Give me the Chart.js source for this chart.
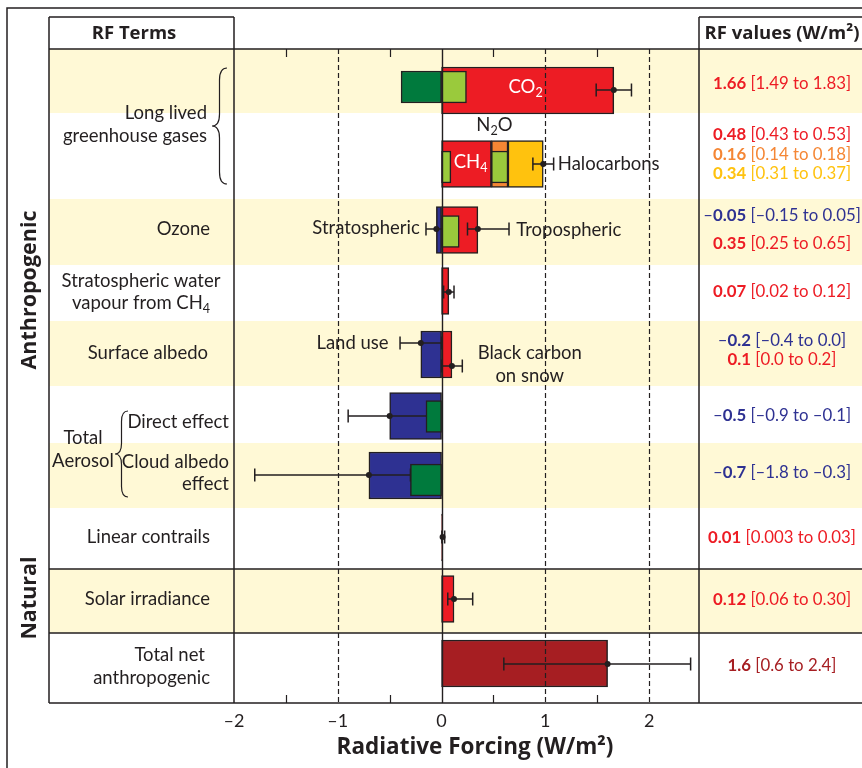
<!DOCTYPE html>
<html>
<head>
<meta charset="utf-8">
<title>Radiative forcing components</title>
<script src="https://cdn.jsdelivr.net/npm/chart.js@4/dist/chart.umd.min.js"></script>
<style>
  html, body { margin: 0; padding: 0; background: #ffffff; }
  #wrap { width: 862px; height: 768px; position: relative; }
</style>
</head>
<body>
<div id="wrap"><canvas id="rf" width="862" height="768"></canvas></div>
<script>
// ---- x axis ----
const xMin = -2, xMax = 2.5;
const xTickValues = [-2, -1, 0, 1, 2];
const xMinorTicks = [-1.5, -0.5, 0.5, 1.5];
const xDashed = [-1, 1, 2];

// ---- RF terms: best estimates and ranges (W/m²) ----
const termNames = ['CO₂', 'CH₄', 'N₂O', 'Halocarbons', 'Stratospheric ozone', 'Tropospheric ozone',
  'Stratospheric water vapour', 'Land use', 'Black carbon on snow', 'Direct effect',
  'Cloud albedo effect', 'Linear contrails', 'Solar irradiance', 'Total net anthropogenic'];
const termRow         = [0, 1, 1, 1, 2, 2, 3, 4, 4, 5, 6, 7, 8, 9];
const stackOnPrevious = [false, false, true, true, false, false, false, false, false, false, false, false, false, false];
const rfBest = [1.66, 0.48, 0.16, 0.34, -0.05, 0.35, 0.07, -0.2, 0.1, -0.5, -0.7, 0.01, 0.12, 1.6];
const rfLow  = [1.49, 0.43, 0.14, 0.31, -0.15, 0.25, 0.02, -0.4, 0.0, -0.9, -1.8, 0.003, 0.06, 0.6];
const rfHigh = [1.83, 0.53, 0.18, 0.37, 0.05, 0.65, 0.12, 0.0, 0.2, -0.1, -0.3, 0.03, 0.30, 2.4];
const bestDigits = [2, 2, 2, 2, 2, 2, 2, 1, 1, 1, 1, 2, 2, 1];
const lowDigits  = [2, 2, 2, 2, 2, 2, 2, 1, 1, 1, 1, 3, 2, 1];
const highDigits = [2, 2, 2, 2, 2, 2, 2, 1, 1, 1, 1, 2, 2, 1];

// terms whose uncertainty is shown as one whisker (CH4 + N2O + halocarbons combined)
const whiskerGroups = [[0], [1, 2, 3], [4], [5], [6], [7], [8], [9], [10], [11], [12], [13]];

// ---- inner boxes (W/m²) ----
const innerLow  = [-0.39, 0, 0, 0.48, 0, -0.15, -0.3];
const innerHigh = [0, 0.24, 0.09, 0.64, 0.17, 0, 0];
const innerRow  = [0, 0, 1, 1, 2, 5, 6];

// ---- colours ----
const ink = '#231F20';
const band = '#FFF9D6';
const RED = '#ED1C24', ORANGE = '#F58634', YELLOW = '#FFC20E', BLUE = '#2E3192', DARKRED = '#A61E22';
const LIGHTGREEN = '#9ACA3C', DARKGREEN = '#007A3D';
const termColours = [RED, RED, ORANGE, YELLOW, BLUE, RED, RED, BLUE, RED, BLUE, BLUE, RED, RED, DARKRED];
const innerColours = [DARKGREEN, LIGHTGREEN, LIGHTGREEN, LIGHTGREEN, LIGHTGREEN, DARKGREEN, DARKGREEN];

// ---- table layout (row heights and offsets in px within the table) ----
const rowHeights = [64, 86, 66, 56, 65, 57, 65, 61, 64, 70];
const shadedRows = [0, 2, 4, 6, 8];
const ruledRows = [8, 9];
const barOffset    = [41.5, 51, 51, 51, 31, 31, 26, 33.5, 33.5, 30, 32.5, 29.5, 30, 30.5];
const whiskerOffset = [41, 51, 30, 30, 27, 22, 45, 30, 32, 29, 30, 31];
const innerOffset  = [38, 38, 54, 54, 32.5, 30.5, 37];
const valueTextOffset = [35, 86, 106, 125, 167, 195, 243, 292, 311, 367, 424, 489, 551, 617];

const rowTop = [];
let rowTotal = 0;
rowHeights.forEach(h => { rowTop.push(rowTotal); rowTotal += h; });
const yPos = (row, off) => rowTop[row] + off;

const FONT = 'Lato, "Open Sans", sans-serif';
const BOLDFONT = '"Open Sans", Lato, sans-serif';
const fmtNum = (v, d) => (v < 0 ? '\u2013' : '') + Math.abs(v).toFixed(d);

// floating bar extents (LLGHG terms stack end to end)
const barStart = [], barEnd = [];
termNames.forEach((_, i) => {
  const s = stackOnPrevious[i] ? barEnd[i - 1] : 0;
  barStart.push(s);
  barEnd.push(s + rfBest[i]);
});

// whiskers
const whiskers = whiskerGroups.map((g, k) => {
  const sum = arr => g.reduce((a, i) => a + arr[i], 0);
  const last = g[g.length - 1];
  return {
    low: sum(rfLow),
    high: sum(rfHigh),
    best: g.length > 1 ? barEnd[last] : rfBest[last],
    y: yPos(termRow[last], whiskerOffset[k])
  };
});
const whiskerLine = [];
whiskers.forEach(w => {
  whiskerLine.push({x: w.low, y: w.y}, {x: w.high, y: w.y}, {x: null, y: null});
});

// ---- text helpers ----
function fontFor(p, size) {
  const s = p.sub ? size * 0.68 : size;
  return p.bold ? '700 ' + s + 'px ' + (p.family || FONT) : '400 ' + s + 'px ' + FONT;
}
function richText(ctx, parts, x, y, align, size, colour) {
  ctx.textBaseline = 'middle';
  ctx.textAlign = 'left';
  const widths = parts.map(p => { ctx.font = fontFor(p, size); return ctx.measureText(p.t).width; });
  const total = widths.reduce((a, b) => a + b, 0);
  let cx = align === 'center' ? x - total / 2 : align === 'right' ? x - total : x;
  parts.forEach((p, k) => {
    ctx.font = fontFor(p, size);
    ctx.fillStyle = p.color || colour || ink;
    ctx.fillText(p.t, cx, y + (p.sub ? size * 0.3 : 0));
    cx += widths[k];
  });
}
function brace(ctx, x, yTop, yBot, depth) {
  const ym = (yTop + yBot) / 2, mid = x + depth / 2, r = depth / 2;
  ctx.beginPath();
  ctx.moveTo(x + depth, yTop);
  ctx.quadraticCurveTo(mid, yTop, mid, yTop + r * 1.6);
  ctx.lineTo(mid, ym - r * 1.6);
  ctx.quadraticCurveTo(mid, ym, x, ym);
  ctx.quadraticCurveTo(mid, ym, mid, ym + r * 1.6);
  ctx.lineTo(mid, yBot - r * 1.6);
  ctx.quadraticCurveTo(mid, yBot, x + depth, yBot);
  ctx.stroke();
}

// labels in the RF terms column (x in px, off = offset in table)
const termLabels = [
  {parts: [{t: 'Long lived'}], x: 207, off: 64, align: 'right'},
  {parts: [{t: 'greenhouse gases'}], x: 207, off: 87, align: 'right'},
  {parts: [{t: 'Ozone'}], x: 210, off: 180, align: 'right'},
  {parts: [{t: 'Stratospheric water'}], x: 141, off: 232, align: 'center'},
  {parts: [{t: 'vapour from CH'}, {t: '4', sub: true}], x: 141, off: 254, align: 'center'},
  {parts: [{t: 'Surface albedo'}], x: 208, off: 304, align: 'right'},
  {parts: [{t: 'Total'}], x: 83, off: 389, align: 'center'},
  {parts: [{t: 'Aerosol'}], x: 83, off: 412, align: 'center'},
  {parts: [{t: 'Direct effect'}], x: 229, off: 373, align: 'right'},
  {parts: [{t: 'Cloud albedo'}], x: 229, off: 413, align: 'right'},
  {parts: [{t: 'effect'}], x: 229, off: 435, align: 'right'},
  {parts: [{t: 'Linear contrails'}], x: 210, off: 488, align: 'right'},
  {parts: [{t: 'Solar irradiance'}], x: 210, off: 550, align: 'right'},
  {parts: [{t: 'Total net'}], x: 205, off: 606, align: 'right'},
  {parts: [{t: 'anthropogenic'}], x: 210, off: 629, align: 'right'}
];
// labels inside the plot (xv = position on the forcing axis)
const plotNotes = [
  {parts: [{t: 'CO'}, {t: '2', sub: true}], xv: 0.81, off: 38, align: 'center', color: '#ffffff'},
  {parts: [{t: 'N'}, {t: '2', sub: true}, {t: 'O'}], xv: 0.51, off: 76, align: 'center'},
  {parts: [{t: 'CH'}, {t: '4', sub: true}], xv: 0.28, off: 113, align: 'center', color: '#ffffff'},
  {parts: [{t: 'Halocarbons'}], xv: 1.12, off: 115, align: 'left'},
  {parts: [{t: 'Stratospheric'}], xv: -0.21, off: 179, align: 'right'},
  {parts: [{t: 'Tropospheric'}], xv: 0.72, off: 181, align: 'left'},
  {parts: [{t: 'Land use'}], xv: -0.51, off: 294, align: 'right'},
  {parts: [{t: 'Black carbon'}], xv: 0.85, off: 304, align: 'center'},
  {parts: [{t: 'on snow'}], xv: 0.85, off: 327, align: 'center'}
];

const tableLeft = 49, tableRight = 862, headerTop = 17, valuesLeft = 699;
const LABEL_SIZE = 18.5, VALUE_SIZE = 16.8;

const tablePlugin = {
  id: 'rfTable',
  beforeDatasetsDraw(chart) {
    const {ctx, scales: {y}} = chart;
    ctx.save();
    ctx.fillStyle = band;
    shadedRows.forEach(r => {
      const t = y.getPixelForValue(rowTop[r]);
      const b = y.getPixelForValue(rowTop[r] + rowHeights[r]);
      ctx.fillRect(tableLeft, t, tableRight - tableLeft, b - t);
    });
    ctx.restore();
  },
  afterDatasetsDraw(chart) {
    const {ctx, chartArea: a, scales: {x, y}} = chart;
    const Y = off => y.getPixelForValue(off);
    ctx.save();

    // plot annotations
    plotNotes.forEach(n => richText(ctx, n.parts, x.getPixelForValue(n.xv), Y(n.off), n.align, LABEL_SIZE, n.color));

    // grid: dashed reference lines, zero line, minor ticks
    ctx.strokeStyle = ink;
    ctx.lineWidth = 1.2;
    ctx.setLineDash([5, 3]);
    xDashed.forEach(v => {
      const px = Math.round(x.getPixelForValue(v)) + 0.5;
      ctx.beginPath(); ctx.moveTo(px, a.top); ctx.lineTo(px, a.bottom); ctx.stroke();
    });
    ctx.setLineDash([]);
    ctx.lineWidth = 1.4;
    const zx = Math.round(x.getPixelForValue(0)) + 0.5;
    ctx.beginPath(); ctx.moveTo(zx, a.top); ctx.lineTo(zx, a.bottom); ctx.stroke();
    ctx.lineWidth = 1.2;
    xMinorTicks.forEach(v => {
      const px = Math.round(x.getPixelForValue(v)) + 0.5;
      ctx.beginPath();
      ctx.moveTo(px, a.top); ctx.lineTo(px, a.top + 8);
      ctx.moveTo(px, a.bottom); ctx.lineTo(px, a.bottom - 8);
      ctx.stroke();
    });

    // table rules
    ctx.lineWidth = 1.5;
    ctx.beginPath();
    ctx.moveTo(tableLeft, headerTop); ctx.lineTo(a.left, headerTop);
    ctx.moveTo(valuesLeft, headerTop); ctx.lineTo(tableRight, headerTop);
    [tableLeft, a.left, valuesLeft].forEach(px => { ctx.moveTo(px, headerTop); ctx.lineTo(px, a.bottom); });
    ctx.moveTo(tableLeft, a.top); ctx.lineTo(tableRight, a.top);
    ctx.moveTo(tableLeft, a.bottom); ctx.lineTo(tableRight, a.bottom);
    ruledRows.forEach(r => {
      const py = Y(rowTop[r]);
      ctx.moveTo(tableLeft, py); ctx.lineTo(tableRight, py);
    });
    // outer frame
    ctx.moveTo(7, 768); ctx.lineTo(7, 8); ctx.lineTo(862, 8);
    ctx.stroke();

    // braces
    ctx.lineWidth = 1.2;
    brace(ctx, 212, Y(19), Y(135), 15);
    brace(ctx, 115, Y(362), Y(448), 13);

    // headers
    richText(ctx, [{t: 'RF Terms', bold: true, family: BOLDFONT}], 134, 34, 'center', 18.5);
    richText(ctx, [{t: 'RF values (W/m²)', bold: true, family: BOLDFONT}], 782, 34, 'center', 18.5);

    // term labels
    termLabels.forEach(l => richText(ctx, l.parts, l.x, Y(l.off), l.align, LABEL_SIZE));

    // values column
    termNames.forEach((_, i) => {
      const c = termColours[i];
      const parts = [];
      if (rfBest[i] < 0) parts.push({t: '\u2013', color: c});
      parts.push({t: Math.abs(rfBest[i]).toFixed(bestDigits[i]), bold: true, color: c});
      parts.push({t: ' [' + fmtNum(rfLow[i], lowDigits[i]) + ' to ' + fmtNum(rfHigh[i], highDigits[i]) + ']', color: c});
      richText(ctx, parts, 782, Y(valueTextOffset[i]), 'center', VALUE_SIZE);
    });

    // side group labels
    ctx.font = '700 21.5px ' + BOLDFONT;
    ctx.fillStyle = ink;
    ctx.textAlign = 'center';
    ctx.textBaseline = 'alphabetic';
    [['Anthropogenic', 241], ['Natural', 549]].forEach(([t, off]) => {
      ctx.save();
      ctx.translate(36, Y(off));
      ctx.rotate(-Math.PI / 2);
      ctx.fillText(t, 0, 0);
      ctx.restore();
    });

    // axis title
    richText(ctx, [{t: 'Radiative Forcing (W/m²)', bold: true, family: BOLDFONT}], 475, 748, 'center', 22.5);
    ctx.restore();
  }
};

new Chart(document.getElementById('rf'), {
  type: 'bar',
  data: {
    datasets: [
      {
        label: 'Inner boxes', type: 'bar', indexAxis: 'y', grouped: false, barThickness: 32,
        data: innerLow.map((lo, k) => ({x: [lo, innerHigh[k]], y: yPos(innerRow[k], innerOffset[k])})),
        backgroundColor: innerColours, borderColor: ink, borderWidth: 1.5, borderSkipped: false, order: 1
      },
      {
        label: 'Best estimate', type: 'line', showLine: false,
        data: whiskers.map(w => ({x: w.best, y: w.y})),
        pointRadius: 3, pointBackgroundColor: ink, pointBorderColor: ink, pointBorderWidth: 0, order: 2
      },
      {
        label: 'Range', type: 'line', data: whiskerLine, spanGaps: false, fill: false,
        borderColor: ink, borderWidth: 1.3, pointStyle: 'line', pointRotation: 90,
        pointRadius: 6.5, pointBorderColor: ink, pointBorderWidth: 1.5, order: 3
      },
      {
        label: 'Radiative forcing', type: 'bar', indexAxis: 'y', grouped: false, barThickness: 47,
        data: termNames.map((_, i) => ({x: [barStart[i], barEnd[i]], y: yPos(termRow[i], barOffset[i])})),
        backgroundColor: termColours, borderColor: ink, borderWidth: 1.5, borderSkipped: false, order: 4
      }
    ]
  },
  options: {
    responsive: false,
    animation: false,
    devicePixelRatio: 1,
    events: [],
    layout: {padding: {left: 234, right: 161, top: 49, bottom: 0}},
    plugins: {legend: {display: false}, tooltip: {enabled: false}},
    scales: {
      x: {
        type: 'linear', min: xMin, max: xMax, position: 'bottom', offset: false,
        grid: {display: false, drawTicks: false, offset: false},
        border: {display: false},
        afterBuildTicks: s => { s.ticks = xTickValues.map(v => ({value: v})); },
        afterFit: s => { s.height = 65; },
        ticks: {
          callback: v => fmtNum(v, 0),
          font: {family: FONT, size: 18},
          color: ink, padding: 7, maxRotation: 0, autoSkip: false
        }
      },
      y: {type: 'linear', reverse: true, min: 0, max: rowTotal, display: false, offset: false, grid: {offset: false}}
    }
  },
  plugins: [tablePlugin]
});
</script>
</body>
</html>
